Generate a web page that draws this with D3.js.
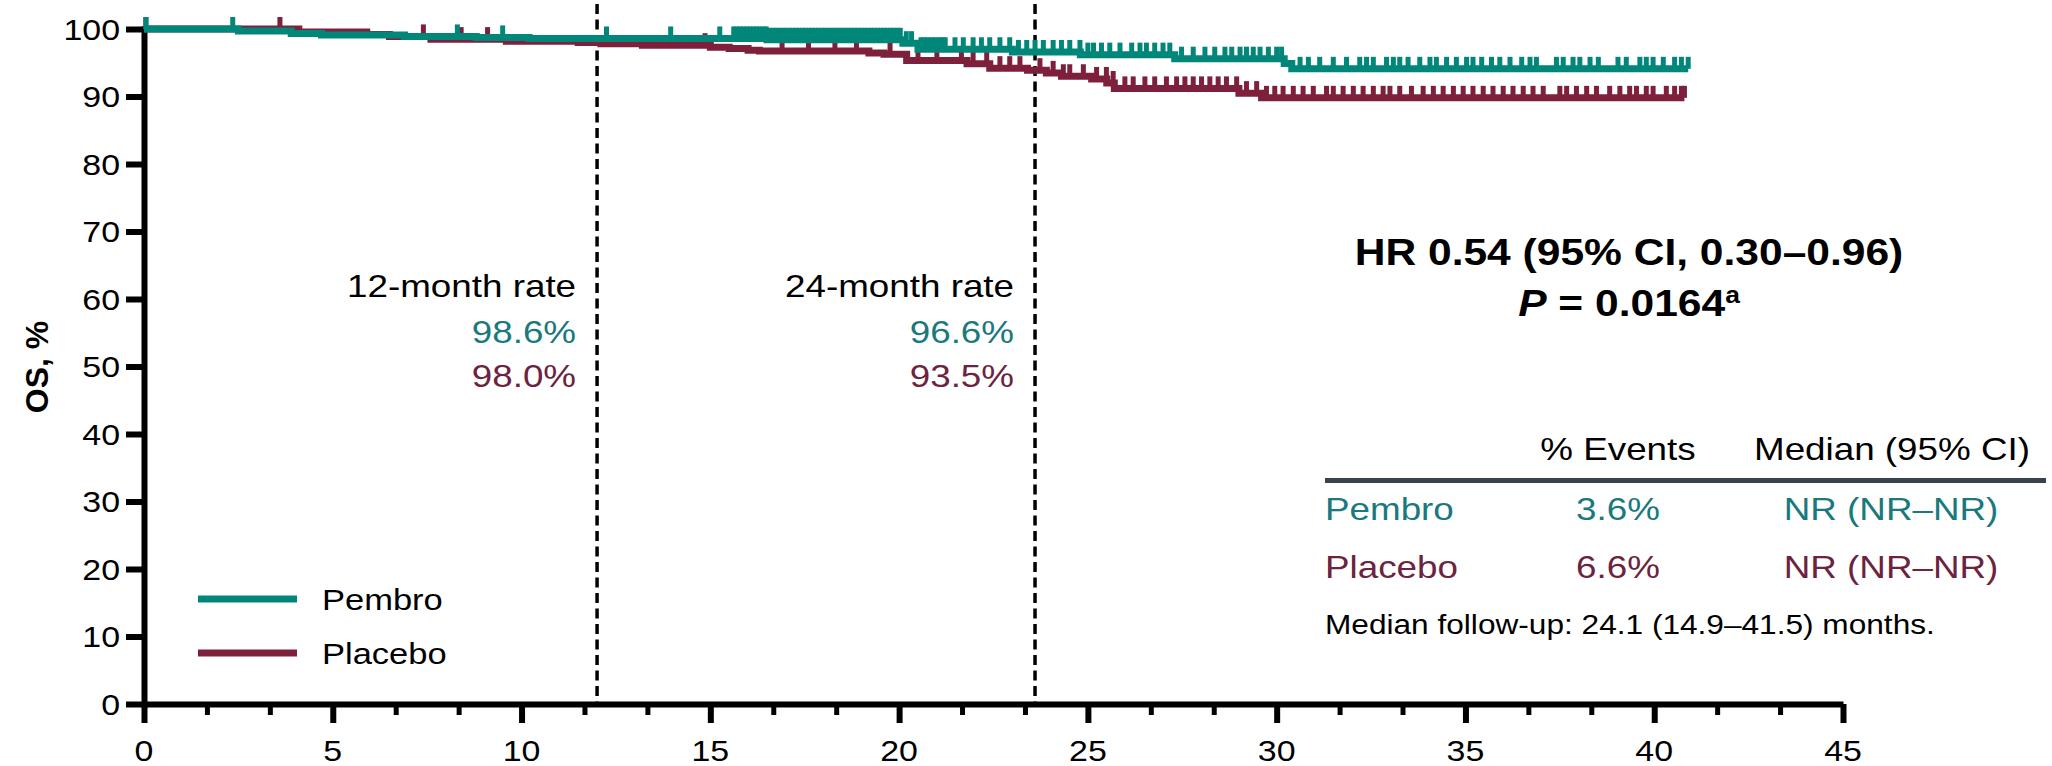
<!DOCTYPE html>
<html>
<head>
<meta charset="utf-8">
<script src="https://cdn.jsdelivr.net/npm/d3@7"></script>
<style>
  html, body { margin: 0; padding: 0; background: #fff; }
  svg { display: block; font-family: "Liberation Sans", Arial, Helvetica, sans-serif; }
</style>
</head>
<body>
<svg id="chart" width="2052" height="766"></svg>
<script>
// ---- Data -------------------------------------------------------------
const xTickValues = [0, 5, 10, 15, 20, 25, 30, 35, 40, 45];
const yTickValues = [0, 10, 20, 30, 40, 50, 60, 70, 80, 90, 100];

// Kaplan–Meier steps: [month, survival % after the drop]
const pembroSteps = [
  [0, 100], [2.5, 99.7], [3.9, 99.35], [4.7, 99.1], [6.9, 98.9], [8.8, 98.75],
  [10.2, 98.6], [16.5, 98.4], [20.1, 97.9], [20.5, 97.0], [23.0, 96.6],
  [24.8, 96.2], [27.3, 95.6], [30.2, 94.9], [30.4, 94.1]
];
const pembroLast = 40.9;

const placeboSteps = [
  [0, 100], [4.1, 99.55], [5.9, 99.2], [6.5, 98.9], [7.6, 98.5], [9.6, 98.2],
  [11.5, 98.0], [12.1, 97.8], [13.2, 97.6], [15.0, 97.3], [15.5, 97.1],
  [16.0, 96.85], [16.3, 96.75], [19.2, 96.45], [19.6, 96.25], [20.2, 95.35],
  [21.8, 94.85], [22.4, 94.2], [23.4, 93.9], [23.9, 93.5], [24.3, 93.0],
  [25.1, 92.6], [25.5, 92.0], [25.7, 91.2], [29.0, 90.5], [29.6, 89.8]
];
const placeboLast = 40.8;

// Censoring times (months)
const pembroCensor = [
  0.05, 2.35, 8.3, 9.5, 12.25, 13.95, 15.25, 15.62, 15.71, 15.79, 15.88, 15.97,
  16.05, 16.14, 16.22, 16.31, 16.4, 16.48, 16.57, 16.66, 16.74, 16.83, 16.92,
  17.0, 17.09, 17.18, 17.26, 17.35, 17.44, 17.52, 17.61, 17.7, 17.78, 17.87,
  17.96, 18.04, 18.13, 18.22, 18.3, 18.39, 18.48, 18.56, 18.65, 18.74, 18.82,
  18.91, 19.0, 19.08, 19.17, 19.26, 19.34, 19.43, 19.52, 19.6, 19.69, 19.78,
  19.86, 19.95, 20.03, 20.19, 20.33, 20.58, 20.67, 20.76, 20.86, 20.95, 21.06,
  21.14, 21.22, 21.48, 21.7, 21.96, 22.18, 22.4, 22.67, 22.93, 23.16, 23.38,
  23.6, 23.82, 24.08, 24.3, 24.52, 24.79, 25.0, 25.15, 25.36, 25.58, 25.85,
  26.16, 26.38, 26.55, 26.77, 26.99, 27.17, 27.48, 27.79, 28.1, 28.36, 28.63,
  28.81, 29.03, 29.2, 29.38, 29.56, 29.78, 30.0, 30.13, 30.62, 30.84, 31.14,
  31.5, 31.85, 32.2, 32.38, 32.56, 32.91, 33.09, 33.26, 33.48, 33.79, 34.06,
  34.23, 34.5, 34.76, 35.03, 35.2, 35.43, 35.69, 35.91, 36.18, 36.49, 36.71,
  36.88, 37.41, 37.59, 37.85, 38.03, 38.3, 38.52, 39.04, 39.26, 39.62, 39.79,
  39.97, 40.24, 40.54, 40.72, 40.9
];
const placeboCensor = [
  0.05, 3.6, 7.4, 8.4, 9.1, 14.86, 16.9, 17.6, 18.3, 18.87, 19.76, 20.5, 21.0,
  21.65, 21.96, 22.32, 22.67, 22.93, 23.2, 23.73, 24.08, 24.35, 24.52, 24.88,
  25.23, 25.49, 25.67, 25.98, 26.2, 26.51, 26.77, 27.08, 27.35, 27.57, 27.79,
  28.01, 28.23, 28.45, 28.67, 28.94, 29.2, 29.47, 29.73, 29.95, 30.17, 30.44,
  30.7, 30.97, 31.32, 31.5, 31.76, 32.03, 32.29, 32.56, 32.82, 33.0, 33.26,
  33.57, 33.88, 34.15, 34.41, 34.68, 34.94, 35.2, 35.47, 35.73, 36.0, 36.26,
  36.53, 36.79, 37.06, 37.5, 37.68, 37.94, 38.21, 38.47, 38.82, 39.09, 39.35,
  39.53, 39.79, 39.97, 40.32, 40.54, 40.72, 40.8
];

// Landmark rates
const landmarkMonths = [12, 23.6];
const landmarkTitles = ["12-month rate", "24-month rate"];
const pembroRates = [98.6, 96.6];
const placeboRates = [98.0, 93.5];

// Summary table
const armNames = ["Pembro", "Placebo"];
const eventPct = [3.6, 6.6];
const medians = ["NR (NR\u2013NR)", "NR (NR\u2013NR)"];

// ---- Styling ----------------------------------------------------------
const TEAL = "#00877a", MAROON = "#7e203c";
const TEAL_TXT = "#19797c", MAROON_TXT = "#6c2340";
const SX = 1.15; // horizontal text stretch

const svg = d3.select("#chart");
const x = d3.scaleLinear().domain([0, 45]).range([144, 1843]);
const y = d3.scaleLinear().domain([0, 100]).range([704, 29]);

function label(g, px, py, s, o = {}) {
  return g.append("text")
    .attr("transform", `translate(${px},${py}) scale(${o.sx || SX},1)`)
    .attr("text-anchor", o.anchor || "start")
    .attr("font-size", o.size || 32)
    .attr("font-weight", o.weight || "normal")
    .attr("fill", o.fill || "#000")
    .text(s);
}

// ---- Axes -------------------------------------------------------------
const yAxis = svg.append("g").attr("transform", `translate(${x(0)},0)`)
  .call(d3.axisLeft(y).tickValues(yTickValues).tickSize(18).tickSizeOuter(0).tickFormat(""));
yAxis.select(".domain").attr("stroke", "#000").attr("stroke-width", 6).attr("stroke-linecap", "square");
yAxis.selectAll(".tick line").attr("stroke", "#000").attr("stroke-width", 6);

const minorX = d3.range(0, 45.001, 5 / 3).filter(v => Math.abs(v / 5 - Math.round(v / 5)) > 1e-6);
const xMinor = svg.append("g").attr("transform", `translate(0,${y(0)})`)
  .call(d3.axisBottom(x).tickValues(minorX).tickSize(11).tickSizeOuter(0).tickFormat(""));
xMinor.select(".domain").remove();
xMinor.selectAll(".tick line").attr("stroke", "#000").attr("stroke-width", 5);

const xAxis = svg.append("g").attr("transform", `translate(0,${y(0)})`)
  .call(d3.axisBottom(x).tickValues(xTickValues).tickSize(19).tickSizeOuter(0).tickFormat(""));
xAxis.select(".domain").attr("stroke", "#000").attr("stroke-width", 6);
xAxis.selectAll(".tick line").attr("stroke", "#000").attr("stroke-width", 6);

yTickValues.forEach(v => label(svg, 120, y(v) + 10.5, String(v), { size: 29.5, anchor: "end" }));
xTickValues.forEach(v => label(svg, x(v), 761, String(v), { size: 29.5, anchor: "middle" }));

svg.append("text")
  .attr("transform", "translate(48,367) rotate(-90)")
  .attr("text-anchor", "middle")
  .attr("font-size", 32).attr("font-weight", "bold")
  .text("OS, %");

// ---- Landmark dashed lines -------------------------------------------
svg.selectAll("line.landmark").data(landmarkMonths).enter().append("line")
  .attr("class", "landmark")
  .attr("x1", d => x(d)).attr("x2", d => x(d))
  .attr("y1", 4).attr("y2", y(0))
  .attr("stroke", "#000").attr("stroke-width", 3.5).attr("stroke-dasharray", "10 5.5");

// ---- KM curves ---------------------------------------------------------
function valueAt(steps, t) {
  let v = steps[0][1];
  for (const s of steps) { if (s[0] <= t + 1e-9) v = s[1]; }
  return v;
}
const stepLine = d3.line().x(d => x(d[0])).y(d => y(d[1])).curve(d3.curveStepAfter);

function drawArm(steps, last, censor, color) {
  const pts = steps.concat([[last, steps[steps.length - 1][1]]]);
  const g = svg.append("g");
  g.append("path").datum(pts)
    .attr("d", stepLine).attr("fill", "none")
    .attr("stroke", color).attr("stroke-width", 7);
  g.selectAll("rect").data(censor).enter().append("rect")
    .attr("x", d => x(d) - 2.5).attr("width", 5)
    .attr("y", d => y(valueAt(steps, d)) - 12).attr("height", 12)
    .attr("fill", color);
}
drawArm(placeboSteps, placeboLast, placeboCensor, MAROON);
drawArm(pembroSteps, pembroLast, pembroCensor, TEAL);

// ---- Landmark annotations ---------------------------------------------
landmarkMonths.forEach((m, i) => {
  const rx = x(m) - 21;
  label(svg, rx, 296.5, landmarkTitles[i], { size: 32, anchor: "end" });
  label(svg, rx, 342.5, pembroRates[i].toFixed(1) + "%", { size: 32, anchor: "end", fill: TEAL_TXT });
  label(svg, rx, 386.5, placeboRates[i].toFixed(1) + "%", { size: 32, anchor: "end", fill: MAROON_TXT });
});

// ---- Hazard ratio -------------------------------------------------------
label(svg, 1629, 265, "HR 0.54 (95% CI, 0.30\u20130.96)", { size: 37, weight: "bold", anchor: "middle" });
const pLine = svg.append("text")
  .attr("transform", `translate(1629,316) scale(${SX},1)`)
  .attr("text-anchor", "middle").attr("font-size", 37).attr("font-weight", "bold");
pLine.append("tspan").attr("font-style", "italic").text("P");
pLine.append("tspan").text(" = 0.0164");
pLine.append("tspan").attr("font-size", 23).attr("dy", -13).text("a");

// ---- Legend -------------------------------------------------------------
const legendY = [599, 653];
const legendColors = [TEAL, MAROON];
armNames.forEach((n, i) => {
  svg.append("line").attr("x1", 198).attr("x2", 297)
    .attr("y1", legendY[i]).attr("y2", legendY[i])
    .attr("stroke", legendColors[i]).attr("stroke-width", 7);
  label(svg, 322, legendY[i] + 10.5, n, { size: 30 });
});

// ---- Summary table ------------------------------------------------------
label(svg, 1618, 459.5, "% Events", { size: 32, anchor: "middle" });
label(svg, 1892, 459.5, "Median (95% CI)", { size: 32, anchor: "middle" });
svg.append("line").attr("x1", 1325).attr("x2", 2046).attr("y1", 480.5).attr("y2", 480.5)
  .attr("stroke", "#3a434b").attr("stroke-width", 5);
const rowY = [519.5, 577.5];
const rowColors = [TEAL_TXT, MAROON_TXT];
armNames.forEach((n, i) => {
  label(svg, 1325, rowY[i], n, { size: 32, fill: rowColors[i] });
  label(svg, 1618, rowY[i], eventPct[i].toFixed(1) + "%", { size: 32, anchor: "middle", fill: rowColors[i] });
  label(svg, 1891, rowY[i], medians[i], { size: 32, anchor: "middle", fill: rowColors[i] });
});
label(svg, 1325, 634, "Median follow-up: 24.1 (14.9\u201341.5) months.", { size: 27.5 });
</script>
</body>
</html>
